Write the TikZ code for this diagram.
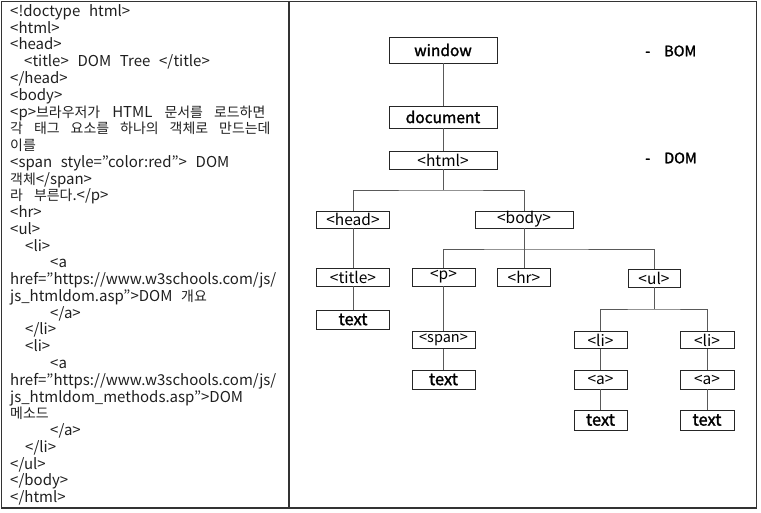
\documentclass[tikz,border=0pt]{standalone}
\usepackage{fontspec}
\setmainfont[WordSpace=2.6]{Noto Sans CJK KR}
\newfontfamily\krfont[Scale=0.93]{Noto Sans CJK KR}
\newfontfamily\semibfont[FakeBold=1.6]{Noto Sans CJK KR}
\newfontfamily\tagfamily{Noto Sans CJK KR}
\newcommand\mycodefont{\fontsize{15}{16}\selectfont}
\newcommand\mytagfont{\tagfamily\fontsize{15.5}{16}\selectfont}
\newcommand\mybigfont{\semibfont\fontsize{15.5}{16}\selectfont}
\newcommand\mytextfont{\semibfont\fontsize{16.5}{17}\selectfont}
\newcommand\kr[1]{{\krfont #1}}
\newcommand\ksp{\hspace{11pt}}
\begin{document}
\begin{tikzpicture}[x=1pt,y=-1pt,
  code/.style={anchor=base west, inner sep=0pt, font=\mycodefont, text=black!88},
  tbox/.style={draw=black!85, line width=0.8pt, minimum width=#1, minimum height=18pt, inner sep=0pt, font=\mytagfont, text=black},
  conn/.style={draw=black!65, line width=0.8pt},
  frame/.style={draw=black!80, line width=1.3pt},
  lab/.style={anchor=west, inner sep=0pt, font=\semibfont\fontsize{14.5}{15}\selectfont}]
\useasboundingbox (0,0) rectangle (761,513);
\draw[frame] (1.5,1.5) rectangle (756.5,508);
\draw[frame] (289,1.5) -- (289,508);

% code listing
\node[code] (c0) at (10,16.5) {<!doctype html>};
\node[code] (c1) at (10,33.3) {<html>};
\node[code] (c2) at (10,50.0) {<head>};
\node[code] (c3) at (24,66.8) {<title> DOM Tree </title>};
\node[code] (c4) at (10,83.5) {</head>};
\node[code] (c5) at (10,100.3) {<body>};
\node[code] (c6) at (10,117.1) {<p>\kr{브라우저가}\hspace{12pt}HTML\hspace{12pt}\kr{문서를\ksp 로드하면}};
\node[code] (c7) at (10,133.8) {\kr{각\ksp 태그\ksp 요소를\ksp 하나의\ksp 객체로\ksp 만드는데}};
\node[code] (c8) at (10,150.6) {\kr{이를}};
\node[code] (c9) at (10,167.3) {<span style="color:red"> DOM};
\node[code] (c10) at (10,184.1) {\kr{객체}</span>};
\node[code] (c11) at (10,200.9) {\kr{라\ksp 부른다}.</p>};
\node[code] (c12) at (10,217.6) {<hr>};
\node[code] (c13) at (10,234.4) {<ul>};
\node[code] (c14) at (25,251.1) {<li>};
\node[code] (c15) at (50,267.9) {<a};
\node[code] (c16) at (10,284.7) {href="https://www.w3schools.com/js/};
\node[code] (c17) at (10,301.4) {js\_htmldom.asp">DOM \kr{개요}};
\node[code] (c18) at (50,318.2) {</a>};
\node[code] (c19) at (25,334.9) {</li>};
\node[code] (c20) at (25,351.7) {<li>};
\node[code] (c21) at (50,368.5) {<a};
\node[code] (c22) at (10,385.2) {href="https://www.w3schools.com/js/};
\node[code] (c23) at (10,402.0) {js\_htmldom\_methods.asp">DOM};
\node[code] (c24) at (10,418.8) {\kr{메소드}};
\node[code] (c25) at (50,435.5) {</a>};
\node[code] (c26) at (25,452.3) {</li>};
\node[code] (c27) at (10,469.0) {</ul>};
\node[code] (c28) at (10,485.8) {</body>};
\node[code] (c29) at (10,502.5) {</html>};

% tree
\node[tbox=108pt, minimum height=26pt, font=\mybigfont] (win) at (443,50) {window};
\node[tbox=108pt, minimum height=22pt, font=\mybigfont] (doc) at (443,117) {document};
\node[tbox=108pt] (html) at (443,160) {<html>};
\node[tbox=73pt, minimum height=17pt] (head) at (353,219.5) {<head>};
\node[tbox=98pt, minimum height=17pt] (body) at (524,219.5) {<body>};
\node[tbox=73pt] (title) at (353,277) {<title>};
\node[tbox=63pt] (p) at (443.5,277) {<p>};
\node[tbox=53pt] (hr) at (524,277) {<hr>};
\node[tbox=52pt] (ul) at (654,278) {<ul>};
\node[tbox=73pt, minimum height=19pt, font=\mytextfont] (t1) at (353,319.5) {text};
\node[tbox=63pt, minimum height=17pt, font=\tagfamily\fontsize{14.5}{15}\selectfont] (span) at (443.5,340) {<span>};
\node[tbox=63pt, minimum height=19pt, font=\mytextfont] (t2) at (443.5,379.5) {text};
\node[tbox=53pt, minimum height=17pt] (li1) at (600.5,340) {<li>};
\node[tbox=54pt, minimum height=17pt] (li2) at (707,340) {<li>};
\node[tbox=53pt, minimum height=19pt] (a1) at (600.5,379.5) {<a>};
\node[tbox=54pt, minimum height=19pt] (a2) at (707,379.5) {<a>};
\node[tbox=53pt, minimum height=20pt, font=\mytextfont] (t3) at (600.5,420) {text};
\node[tbox=54pt, minimum height=20pt, font=\mytextfont] (t4) at (707,420) {text};

\node[lab] (bom) at (645,51) {-\hspace{14pt}BOM};
\node[lab] (dom) at (645,158) {-\hspace{14pt}DOM};

% connectors
\coordinate (hj) at (443,190);
\coordinate (bj) at (524,249);
\coordinate (uj) at (654,309);
\draw[conn] (win) -- (doc);
\draw[conn] (doc) -- (html);
\draw[conn] (html.south) -- (hj);
\draw[conn] (head.north) |- (hj) -| (body.north);
\draw[conn] (head) -- (title);
\draw[conn] (title) -- (t1);
\draw[conn] (body) -- (hr);
\draw[conn] (p.north) |- (bj) -| (ul.north);
\draw[conn] (p) -- (span);
\draw[conn] (span) -- (t2);
\draw[conn] (ul.south) -- (uj);
\draw[conn] (li1.north) |- (uj) -| (li2.north);
\draw[conn] (li1) -- (a1);
\draw[conn] (a1) -- (t3);
\draw[conn] (li2) -- (a2);
\draw[conn] (a2) -- (t4);
\end{tikzpicture}
\end{document}
